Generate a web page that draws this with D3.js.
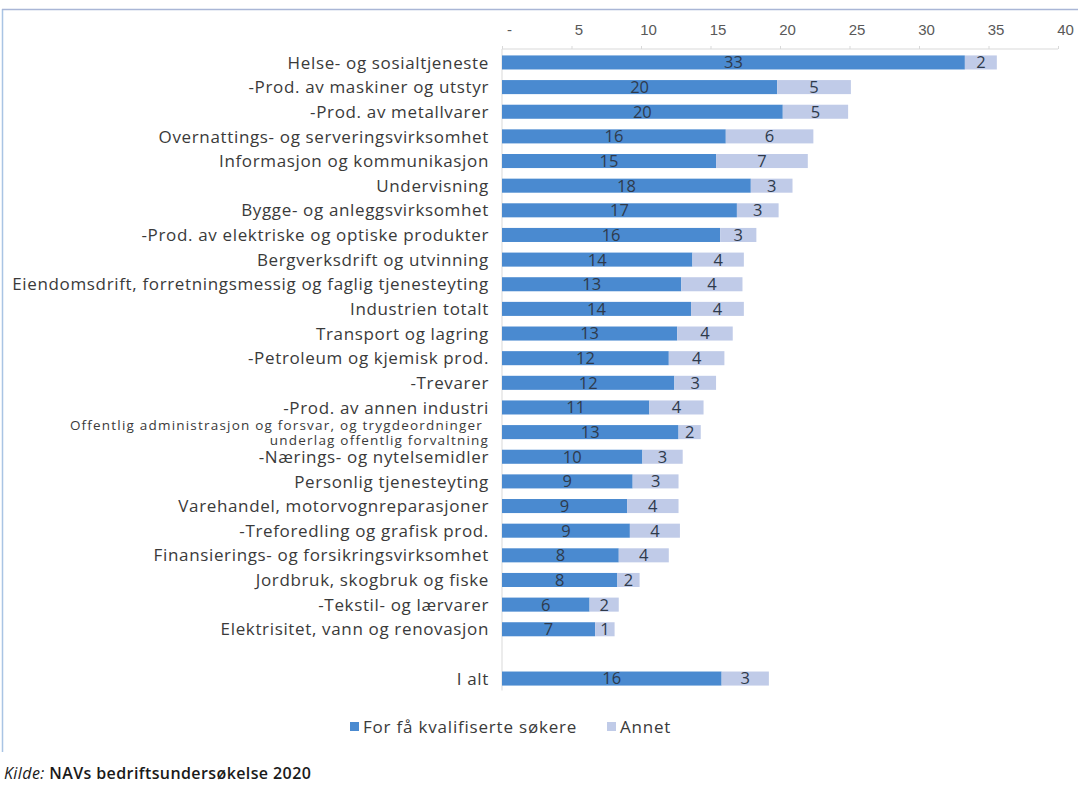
<!DOCTYPE html>
<html>
<head>
<meta charset="utf-8">
<script src="https://cdn.jsdelivr.net/npm/d3@7"></script>
<style>
    body { margin: 0; background: #fff; }
    svg { font-family: "Open Sans", sans-serif; }
    .axis path, .axis line { stroke: #d9d9d9; }
    .axis text { fill: #595959; font-size: 15px; }
    .cat_label { fill: #3a3a3a; font-size: 17px; letter-spacing: 0.65px; }
    .val_label { fill: #2e3a4c; font-size: 16.5px; }
</style>
</head>
<body>
<svg id="chart" width="1078" height="790"></svg>
<script>
var categories = ["Helse- og sosialtjeneste", "-Prod. av maskiner og utstyr", "-Prod. av metallvarer",
    "Overnattings- og serveringsvirksomhet", "Informasjon og kommunikasjon", "Undervisning",
    "Bygge- og anleggsvirksomhet", "-Prod. av elektriske og optiske produkter", "Bergverksdrift og utvinning",
    "Eiendomsdrift, forretningsmessig og faglig tjenesteyting", "Industrien totalt", "Transport og lagring",
    "-Petroleum og kjemisk prod.", "-Trevarer", "-Prod. av annen industri",
    "Offentlig administrasjon og forsvar, og trygdeordninger |underlag offentlig forvaltning",
    "-Nærings- og nytelsemidler", "Personlig tjenesteyting", "Varehandel, motorvognreparasjoner",
    "-Treforedling og grafisk prod.", "Finansierings- og forsikringsvirksomhet", "Jordbruk, skogbruk og fiske",
    "-Tekstil- og lærvarer", "Elektrisitet, vann og renovasjon", "", "I alt"];
var few_qualified = [33.3, 19.8, 20.2, 16.1, 15.4, 17.9, 16.9, 15.7, 13.7, 12.9, 13.6, 12.6, 12.0,
    12.4, 10.6, 12.7, 10.1, 9.4, 9.0, 9.2, 8.4, 8.3, 6.3, 6.7, null, 15.8];
var other = [2.3, 5.3, 4.7, 6.3, 6.6, 3.0, 3.0, 2.6, 3.7, 4.4, 3.8, 4.0, 4.0,
    3.0, 3.9, 1.6, 2.9, 3.3, 3.7, 3.6, 3.6, 1.6, 2.1, 1.4, null, 3.4];
var x_ticks = [0, 5, 10, 15, 20, 25, 30, 35, 40];
var legend_names = ["For få kvalifiserte søkere", "Annet"];
var colors = ["#4a8ad0", "#c0cbe8"];

function draw() {
    var svg = d3.select("#chart");
    var left = 502, right = 1058, top = 49, bot = 690.5;

    // frame lines
    svg.append("line").attr("x1", 2.5).attr("x2", 2.5).attr("y1", 9).attr("y2", 752)
            .attr("stroke", "#a9c4e4").attr("stroke-width", 1.5);
    svg.append("line").attr("x1", 2).attr("x2", 1078).attr("y1", 9.5).attr("y2", 9.5)
            .attr("stroke", "#a9b6d6").attr("stroke-width", 1.5);

    var keys = categories.map(function (d, i) {
        return "k" + i;
    });
    var x = d3.scaleLinear().domain([0, 40]).range([left, right]);
    var y = d3.scaleBand().domain(keys).range([top + 1.5, bot]).paddingInner(0.43).paddingOuter(0.2);

    var xAxis = d3.axisTop(x).tickValues(x_ticks).tickSize(3).tickFormat(function (d) {
        return d === 0 ? "-" : d;
    });
    var g = svg.append("g")
            .attr("class", "axis")
            .attr("transform", "translate(0," + top + ")")
            .call(xAxis);
    g.select(".domain").attr("d", "M" + left + ",0H" + right);
    g.selectAll(".tick text").attr("dx", 7).attr("y", -14);

    svg.append("line")
            .attr("x1", left).attr("x2", left)
            .attr("y1", top).attr("y2", bot)
            .attr("stroke", "#d9d9d9");

    var rows = [];
    for (var i = 0; i < categories.length; i++) {
        if (few_qualified[i] !== null) {
            rows.push({key: keys[i], name: categories[i], a: few_qualified[i], b: other[i]});
        }
    }

    svg.selectAll(".bar_a").data(rows).enter().append("rect")
            .attr("class", "bar_a")
            .attr("x", x(0))
            .attr("y", function (d) { return y(d.key); })
            .attr("width", function (d) { return x(d.a) - x(0); })
            .attr("height", y.bandwidth())
            .attr("fill", colors[0]);
    svg.selectAll(".bar_b").data(rows).enter().append("rect")
            .attr("class", "bar_b")
            .attr("x", function (d) { return x(d.a); })
            .attr("y", function (d) { return y(d.key); })
            .attr("width", function (d) { return x(d.a + d.b) - x(d.a); })
            .attr("height", y.bandwidth())
            .attr("fill", colors[1]);

    svg.selectAll(".lab_a").data(rows).enter().append("text")
            .attr("class", "val_label")
            .attr("x", function (d) { return (x(0) + x(d.a)) / 2; })
            .attr("y", function (d) { return y(d.key) + y.bandwidth() / 2; })
            .attr("dy", "0.36em")
            .attr("text-anchor", "middle")
            .text(function (d) { return Math.round(d.a); });
    svg.selectAll(".lab_b").data(rows).enter().append("text")
            .attr("class", "val_label")
            .attr("x", function (d) { return (x(d.a) + x(d.a + d.b)) / 2; })
            .attr("y", function (d) { return y(d.key) + y.bandwidth() / 2; })
            .attr("dy", "0.36em")
            .attr("text-anchor", "middle")
            .text(function (d) { return Math.round(d.b); });

    rows.forEach(function (d) {
        var cy = y(d.key) + y.bandwidth() / 2;
        var parts = d.name.split("|");
        if (parts.length == 1) {
            svg.append("text").attr("class", "cat_label")
                    .attr("x", 489).attr("y", cy).attr("dy", "0.36em")
                    .attr("text-anchor", "end").text(d.name);
        } else {
            svg.append("text").attr("class", "cat_label")
                    .attr("x", 483).attr("y", cy - 2)
                    .attr("text-anchor", "end").style("font-size", "13.5px")
                    .style("letter-spacing", "1.2px").text(parts[0].trim());
            svg.append("text").attr("class", "cat_label")
                    .attr("x", 489).attr("y", cy + 12.5)
                    .attr("text-anchor", "end").style("font-size", "13.5px")
                    .style("letter-spacing", "1.2px").text(parts[1]);
        }
    });

    // legend
    var lx = [350, 607];
    for (var j = 0; j < legend_names.length; j++) {
        svg.append("rect").attr("x", lx[j]).attr("y", 722).attr("width", 9).attr("height", 9)
                .attr("fill", colors[j]);
        svg.append("text").attr("x", lx[j] + 13).attr("y", 727).attr("dy", "0.36em")
                .attr("fill", "#3a3a3a").style("font-size", "17px").style("letter-spacing", "0.8px")
                .text(legend_names[j]);
    }

    var src = svg.append("text").attr("x", 4).attr("y", 779)
            .attr("fill", "#1a1a1a").style("font-size", "16px").style("letter-spacing", "0.4px");
    src.append("tspan").style("font-style", "italic").text("Kilde:");
    src.append("tspan").style("font-weight", "600").text(" NAVs bedriftsundersøkelse 2020");
}
draw();
</script>
</body>
</html>
